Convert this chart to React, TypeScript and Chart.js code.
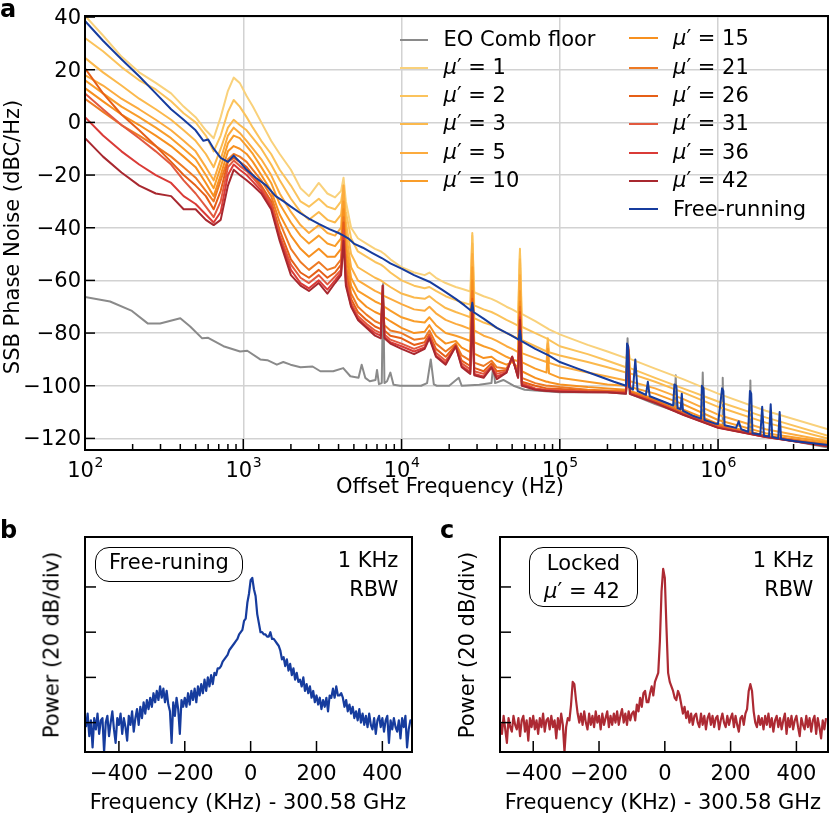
import React, { useEffect, useRef } from 'react';
import { Chart, registerables } from 'chart.js';

Chart.register(...registerables);

const FONT = '"DejaVu Sans", "Noto Sans", sans-serif';

// ---------------- Panel a : SSB phase noise ----------------
const FREQ_MU = [
  100, 130, 170, 220, 280, 350, 420, 500, 580, 650,
  720, 800, 870, 950, 1050, 1150, 1300, 1500, 1700, 2000,
  2300, 2600, 3000, 3400, 3800, 4150, 4300, 4450, 4800, 5300,
  6000, 6800, 7400, 7600, 7800, 8500, 10000, 12000, 14000, 15000,
  16500, 19000, 22000, 24000, 27200, 28000, 28800, 33000, 37000, 40000,
  46000, 50000, 54500, 56000, 57500, 70000, 82500, 84000, 85500, 100000,
  150000, 200000, 262000, 270000, 278000, 400000, 600000, 1000000, 2000000, 4950000,
];

const MU_1 = [
  40.5, 33, 25, 19, 15, 11, 6, 2, -3, -6,
  2, 12, 17, 15, 10, 6, 0, -7, -12, -18,
  -25, -28, -23, -27, -28.5, -26, -21, -30, -40, -44,
  -46, -48, -49, -49.5, -50, -52, -55, -57, -58, -57,
  -59, -61, -62.5, -63.2, -64.2, -43, -64.5, -66, -67, -68,
  -70, -71, -72.2, -49, -72.7, -75.5, -78, -78.3, -78.6, -80.5,
  -84.5, -87, -89.5, -86, -89.8, -93.5, -97.5, -103, -109.5, -116.5,
];
const MU_2 = [
  32, 27, 21, 16, 12.5, 8, 3.5, 0, -5, -11,
  -5, 4, 8.5, 6, 2, -2, -7, -12, -18, -24,
  -30, -32, -29, -32, -33, -30, -24, -34, -44, -49,
  -51, -53, -54, -54.5, -55, -57, -60, -62, -63, -62.5,
  -64, -66, -67.5, -68.3, -69.2, -42, -69.5, -71, -72, -73,
  -75, -76, -77.2, -48, -77.6, -80, -82, -82.3, -82.6, -85,
  -88, -90.5, -93, -86, -93.3, -97, -101, -106, -112, -119,
];
const MU_3 = [
  24.5, 19, 14, 9, 5, 1, -3, -7, -12, -17,
  -10, -2, 1, -1, -3, -6, -10, -16, -22, -29,
  -34, -37, -34, -37, -38, -35, -26, -38, -50, -55,
  -57, -59, -60, -60.5, -61, -62.5, -65, -66.5, -67, -66,
  -68, -70.5, -72, -72.8, -74, -46, -74.3, -76, -77, -78,
  -80, -81, -82.2, -52, -82.6, -85, -87, -82, -87.3, -88.5,
  -91, -93, -95, -86, -95.3, -98.5, -102.5, -108, -114, -120,
];
const MU_5 = [
  18, 14, 9, 5, 1, -3, -7, -11, -17, -22,
  -14, -5, -2, -4, -7, -10, -14, -20, -27, -34,
  -39, -42, -39, -42, -43, -40, -24, -42, -55, -60,
  -62, -64, -65, -65.5, -66, -67, -69, -71, -71.5, -70,
  -72.5, -75, -76.5, -77.2, -78.5, -50, -79, -81, -82, -83,
  -85, -86, -87.2, -58, -87.6, -89.5, -91, -84, -91.3, -92.6,
  -95, -96.5, -98, -86, -98.3, -101, -105, -111, -116.5, -121,
];
const MU_10 = [
  16, 11, 6, 2, -2, -6, -10, -14, -20, -25,
  -17, -8, -5, -6, -9, -12, -17, -23, -31, -38,
  -43, -46, -43, -46, -47, -44, -30, -46, -59, -64,
  -66, -68, -69, -69.5, -70, -71.5, -74, -75.5, -76, -74,
  -77, -80, -81, -81.8, -83, -55, -83.5, -85, -86, -87,
  -89, -90, -90.7, -64, -91, -93.5, -95, -86, -95.3, -97,
  -98.5, -99.5, -100, -86, -100.5, -103, -107, -113, -118, -121.5,
];
const MU_15 = [
  13, 8, 3, -1, -5, -9, -13, -17, -23, -28,
  -20, -11, -9, -10, -12, -15, -20, -26, -35, -43,
  -48, -51, -48, -51, -51, -48, -33, -50, -62, -67,
  -70, -72, -73, -73.5, -74, -75.5, -78, -80, -79.5, -77,
  -81, -84, -83, -85.5, -87.2, -60, -87.8, -89.5, -89, -90.5,
  -92, -91, -93.2, -68, -94.5, -97, -98.5, -98.5, -98.7, -99.5,
  -100.5, -101, -101.5, -86, -102, -105, -109, -114.5, -119, -122,
];
const MU_21 = [
  9, 4, -1, -5, -9, -13, -17, -21, -26, -30,
  -22, -14, -12, -13, -15, -18, -22, -28, -38, -48,
  -53, -56, -53, -56, -55, -52, -36, -54, -65, -70,
  -73, -75.5, -76.5, -70, -77, -79, -80, -82.5, -82, -79,
  -84, -87, -84, -88.5, -90.5, -64, -91.2, -92.5, -90.5, -93,
  -93.5, -90, -95.5, -70, -97, -99, -100, -100, -100, -100.5,
  -101.5, -101.8, -102, -85.5, -102.3, -105.5, -110, -115, -119, -122.5,
];
const MU_26 = [
  20.5, 11, 3, -3, -9, -15, -20, -24, -28, -33,
  -26, -15, -13.5, -15, -17, -20, -24, -30, -41, -52,
  -57, -59, -56, -59, -57, -54, -38, -57, -67, -72,
  -75, -77.5, -78.5, -66, -79, -81, -82, -84.5, -83.5, -80.5,
  -86, -89, -84.5, -90.5, -92.5, -67, -93.2, -94.5, -91.5, -94.5,
  -94, -89.5, -96, -72, -98.5, -100, -101, -101, -101, -101.2,
  -102, -102.2, -102.5, -85.5, -102.7, -106, -110.5, -115.5, -119.3, -122.8,
];
const MU_31 = [
  11, 5, -1, -6, -11, -16, -22, -27, -32, -36,
  -30, -17, -14.5, -16.5, -18.5, -21, -25, -31, -43, -54,
  -59, -61, -58, -61.5, -58.5, -56, -41, -59, -68.5, -73.5,
  -76.5, -79, -80, -64, -80.5, -82.5, -84, -86, -84.5, -81,
  -87.5, -90.5, -85, -91.5, -93.8, -69, -94.5, -95.5, -92.5, -95.5,
  -94.5, -89, -96.5, -73, -99, -101, -101.5, -101.5, -101.5, -101.8,
  -102.2, -102.4, -102.7, -85, -102.9, -106.3, -110.8, -115.8, -119.4, -122.9,
];
const MU_36 = [
  2, -5, -11, -16, -20, -23, -28, -31, -35, -38,
  -34, -20, -16, -18, -20, -22.5, -26, -32, -44, -56,
  -61, -63, -60, -63.5, -60, -57, -43, -61, -69.5, -74.5,
  -77.5, -80, -81, -62, -81.5, -83.5, -85, -87, -85.5, -81.5,
  -88.5, -91.5, -85, -92.5, -94.8, -70, -95.5, -96.5, -93, -96.5,
  -95, -89, -97, -74, -99.5, -101.3, -101.8, -101.8, -101.8, -102,
  -102.4, -102.5, -102.8, -85, -103, -106.4, -110.9, -115.9, -119.5, -123,
];
const MU_42 = [
  -6, -13, -19, -24, -27, -28, -33, -33, -37, -39,
  -37, -24, -18, -20, -22, -24, -27, -33, -45, -58,
  -62, -64, -61, -65, -61, -58, -45, -62, -70, -75,
  -78, -81, -82, -62, -82, -84, -86, -88, -86, -82,
  -89, -92, -85, -93, -95.5, -71, -96, -97, -93, -97.5,
  -95, -89, -97, -75, -100, -101.5, -102, -102, -102, -102.3,
  -102.5, -102.5, -103, -85, -103.2, -106.5, -111, -116, -119.5, -123,
];

const FREQ_FREE = [
  100, 130, 170, 220, 280, 350, 420, 500, 560, 600,
  650, 720, 800, 870, 950, 1050, 1200, 1400, 1600, 1800,
  2000, 2300, 2600, 3000, 3500, 4000, 4300, 4600, 5000, 5700,
  6500, 7500, 8500, 10000, 12000, 15000, 18000, 22000, 25000, 27500,
  28000, 28500, 33000, 40000, 48000, 55000, 56000, 57000, 70000, 85000,
  100000, 130000, 170000, 220000, 262000, 266000, 270000, 274000, 290000, 300000,
  310000, 350000, 360000, 370000, 450000, 520000, 530000, 545000, 555000, 580000,
  590000, 600000, 700000, 780000, 790000, 810000, 820000, 950000, 1000000, 1060000,
  1080000, 1100000, 1300000, 1350000, 1400000, 1550000, 1590000, 1620000, 1650000, 1850000,
  1900000, 1950000, 2100000, 2150000, 2200000, 2400000, 2450000, 2500000, 3000000, 4950000,
];
const FREE_RUNNING = [
  38.5, 31, 24, 17.5, 11, 5, 1, -3, -7, -6.5,
  -10, -13.5, -15, -12.6, -15, -18, -21, -24, -28, -30,
  -32, -34.5, -36.5, -38.5, -40.5, -42, -43, -44, -46, -47.6,
  -49.5, -51.5, -53.5, -55.5, -58, -60.5, -63.5, -67, -69.5, -71.5,
  -68.5, -72, -74.5, -78, -80.5, -82.5, -79, -83, -86, -88.5,
  -91, -93.5, -96, -98.5, -100, -84, -85, -100.5, -101.5, -90,
  -102, -103.5, -98.5, -104, -106, -107.5, -99.5, -100, -108.5, -109,
  -103, -109.5, -111.5, -112.5, -100, -101, -113, -114.3, -114.5, -101,
  -102, -115, -116, -113.5, -116.5, -117.5, -102, -103, -118, -118.5,
  -108, -119, -119.3, -107, -119.5, -120, -110, -120.2, -121, -122.5,
];

const FREQ_EO = [
  100, 144, 198, 250, 298, 400, 462, 550, 600, 750,
  955, 1060, 1280, 1420, 1630, 1790, 1990, 2300, 2740, 3070,
  3700, 4280, 4750, 5350, 5600, 5900, 6300, 6850, 7000, 7200,
  7500, 7650, 7800, 8100, 8500, 8900, 9800, 13300, 14500, 15300,
  16000, 16700, 20000, 23000, 24000, 31000, 37000, 38000, 39000, 44000,
  51000, 60000, 100000, 200000, 262000, 268000, 276000, 400000, 530000, 540000,
  550000, 790000, 800000, 815000, 1060000, 1070000, 1085000, 1590000, 1600000, 1620000,
  4950000,
];
const EO_FLOOR = [
  -66.3, -68, -71.6, -76.4, -76.4, -74.4, -77.5, -82, -81.8, -85,
  -87, -86.7, -90, -90.3, -92, -91, -92, -93, -92.7, -94.5,
  -94.5, -93.3, -96.4, -97, -92, -97, -98.3, -97.8, -94, -99.4,
  -99, -61.4, -99, -98.3, -95, -99.6, -100, -100, -99, -90,
  -99.5, -100, -100, -97, -100, -99.6, -99, -92, -99, -97.8,
  -100, -101.5, -102.5, -102.5, -103, -82, -103, -107, -109.5, -96,
  -110, -113, -95, -113.5, -116, -97, -116, -118, -98, -118,
  -123.5,
];

const A_Y_TICKS = [-120, -100, -80, -60, -40, -20, 0, 20, 40];
const A_X_EXPONENTS = [2, 3, 4, 5, 6];
const A_X_MIN = 100;
const A_X_MAX = 4.95e6;
const A_Y_MIN = -124.4;
const A_Y_MAX = 40.4;

const MU_NAMES = ['1', '2', '3', '5', '10', '15', '21', '26', '31', '36', '42'];
const MU_SERIES = [MU_1, MU_2, MU_3, MU_5, MU_10, MU_15, MU_21, MU_26, MU_31, MU_36, MU_42];
const MU_COLORS = [
  '#f9d17b', '#fbc35c', '#fbb94d', '#fcab3e', '#f99d2a', '#f7901f',
  '#ee7a24', '#e65f17', '#e2593f', '#da3b37', '#a8282f',
];
const COLOR_FREE = '#163c9e';
const COLOR_EO = '#8a8a8a';
const COLOR_LOCKED = '#ad2a33';

// ---------------- Panels b, c : beat-note spectra ----------------
const SPEC_START = -500; // kHz
const SPEC_STEP = 5; // kHz
const SPEC_FREE = [
  -82, -76, -86, -79, -91, -78, -83, -76, -85, -79,
  -78, -93, -80, -77, -86, -80, -75, -83, -89, -78,
  -81, -76, -85, -78, -82, -88, -77, -81, -75, -84,
  -78, -74, -81, -73, -78, -71, -76, -70, -74, -69,
  -73, -67, -71, -66, -70, -64, -69, -65, -71, -66,
  -72, -75, -89, -71, -77, -69, -74, -85, -70, -73,
  -69, -73, -67, -72, -66, -70, -65, -71, -64, -68,
  -63, -67, -61, -66, -60, -64, -59, -63, -58, -59,
  -56, -56, -55, -53, -52, -51, -50, -48, -47, -46,
  -45, -44, -43, -41, -40, -39, -35, -34, -27, -23,
  -17, -16, -21, -24, -32, -36, -40, -40, -41, -41,
  -42, -42, -40, -43, -43, -44, -45, -46, -48, -52,
  -51, -55, -52, -57, -54, -59, -56, -61, -58, -62,
  -61, -64, -60, -66, -63, -67, -64, -69, -66, -71,
  -68, -72, -69, -74, -70, -73, -69, -75, -68, -69,
  -65, -69, -64, -68, -68, -67, -69, -73, -70, -75,
  -72, -76, -73, -78, -75, -79, -74, -80, -76, -81,
  -77, -82, -76, -81, -83, -78, -85, -79, -77, -82,
  -78, -84, -79, -77, -89, -79, -83, -78, -82, -84,
  -79, -87, -78, -82, -77, -91, -83, -79, -80,
];
const SPEC_LOCKED = [
  -80, -85, -77, -83, -89, -78, -82, -84, -77, -81,
  -83, -78, -86, -79, -77, -84, -79, -88, -78, -82,
  -77, -83, -79, -85, -78, -82, -76, -84, -79, -78,
  -83, -77, -82, -79, -87, -78, -83, -76, -81, -93,
  -82, -78, -79, -72, -62, -63, -70, -76, -80, -76,
  -81, -75, -80, -83, -76, -81, -77, -82, -75, -80,
  -77, -83, -76, -81, -78, -75, -82, -77, -81, -76,
  -80, -75, -81, -77, -74, -80, -76, -81, -75, -79,
  -76, -75, -79, -72, -75, -69, -73, -67, -66, -71,
  -71, -67, -64, -68, -62, -60, -58, -44, -22, -12,
  -16, -38, -58, -62, -64, -66, -69, -70, -66, -68,
  -72, -76, -73, -78, -75, -80, -76, -81, -77, -76,
  -80, -82, -76, -81, -77, -83, -78, -76, -81, -77,
  -82, -78, -77, -83, -79, -76, -80, -82, -77, -81,
  -78, -76, -82, -77, -81, -84, -78, -77, -81, -76,
  -74, -66, -63, -66, -75, -80, -82, -77, -81, -78,
  -83, -77, -81, -76, -82, -78, -84, -79, -77, -82,
  -78, -83, -79, -76, -85, -78, -82, -77, -83, -79,
  -77, -82, -86, -78, -81, -83, -77, -82, -78, -84,
  -79, -77, -85, -78, -82, -87, -79, -83, -78,
];
const SPEC_X_TICKS = [-400, -200, 0, 200, 400];
const SPEC_Y_TICKS = [-80, -60, -40, -20];
const SPEC_Y_MIN = -93;
const SPEC_Y_MAX = 2.1;

const fmt = (v: number) => String(v).replace('-', '\u2212');

function line(ctx: CanvasRenderingContext2D, x1: number, y1: number, x2: number, y2: number) {
  ctx.beginPath();
  ctx.moveTo(x1, y1);
  ctx.lineTo(x2, y2);
  ctx.stroke();
}

const panelADeco = {
  id: 'panelADeco',
  afterDraw(chart: any) {
    const { ctx, chartArea: a, scales } = chart;
    const sx = scales.x;
    const sy = scales.y;
    ctx.save();
    ctx.strokeStyle = '#000';
    ctx.fillStyle = '#000';
    ctx.lineWidth = 1.5;
    ctx.font = `21px ${FONT}`;
    ctx.textAlign = 'right';
    ctx.textBaseline = 'middle';
    A_Y_TICKS.forEach((v) => {
      const py = sy.getPixelForValue(v);
      line(ctx, a.left, py, a.left + 10, py);
      ctx.fillText(fmt(v), a.left - 4, py + 1.5);
    });
    A_X_EXPONENTS.forEach((e) => {
      for (let k = 1; k <= 9; k++) {
        const v = k * Math.pow(10, e);
        if (v < A_X_MIN || v > A_X_MAX) continue;
        const px = sx.getPixelForValue(v);
        line(ctx, px, a.bottom, px, a.bottom - (k === 1 ? 11 : 6));
      }
      const px = sx.getPixelForValue(Math.pow(10, e));
      ctx.textAlign = 'left';
      ctx.textBaseline = 'alphabetic';
      ctx.font = `21px ${FONT}`;
      const w1 = ctx.measureText('10').width;
      ctx.font = `14px ${FONT}`;
      const w2 = ctx.measureText(String(e)).width;
      const start = px - (w1 + w2) / 2;
      ctx.font = `21px ${FONT}`;
      ctx.fillText('10', start, a.bottom + 26.7);
      ctx.font = `14px ${FONT}`;
      ctx.fillText(String(e), start + w1 + 0.5, a.bottom + 17);
    });
    ctx.lineWidth = 2;
    ctx.strokeRect(a.left, a.top, a.right - a.left, a.bottom - a.top);
    ctx.restore();
  },
};

function PanelA() {
  const ref = useRef<HTMLCanvasElement>(null);
  useEffect(() => {
    if (!ref.current) return;
    const common = { pointRadius: 0, borderWidth: 2, tension: 0, fill: false, borderJoinStyle: 'round', borderCapStyle: 'round' };
    const datasets: any[] = [];
    datasets.push({
      ...common,
      label: 'Free-running',
      borderColor: COLOR_FREE,
      data: FREQ_FREE.map((f, i) => ({ x: f, y: FREE_RUNNING[i] })),
    });
    for (let s = MU_SERIES.length - 1; s >= 0; s--) {
      datasets.push({
        ...common,
        label: `μ′ = ${MU_NAMES[s]}`,
        borderColor: MU_COLORS[s],
        data: FREQ_MU.map((f, i) => ({ x: f, y: MU_SERIES[s][i] })),
      });
    }
    datasets.push({
      ...common,
      label: 'EO Comb floor',
      borderColor: COLOR_EO,
      data: FREQ_EO.map((f, i) => ({ x: f, y: EO_FLOOR[i] })),
    });
    const chart = new Chart(ref.current, {
      type: 'line',
      data: { datasets },
      options: {
        animation: false,
        responsive: false,
        devicePixelRatio: 1,
        events: [],
        layout: { padding: { left: 0, right: 2, top: 16, bottom: 0 } },
        plugins: { legend: { display: false }, tooltip: { enabled: false } },
        scales: {
          x: {
            type: 'logarithmic',
            min: A_X_MIN,
            max: A_X_MAX,
            border: { display: false },
            grid: { color: '#d2d2d2', lineWidth: 1.5, drawTicks: false },
            ticks: { display: false },
            afterBuildTicks: (s: any) => {
              s.ticks = A_X_EXPONENTS.map((e) => ({ value: Math.pow(10, e) }));
            },
            afterFit: (s: any) => {
              s.height = 50;
            },
          },
          y: {
            type: 'linear',
            min: A_Y_MIN,
            max: A_Y_MAX,
            border: { display: false },
            grid: { color: '#d2d2d2', lineWidth: 1.5, drawTicks: false },
            ticks: { display: false },
            afterBuildTicks: (s: any) => {
              s.ticks = A_Y_TICKS.map((v) => ({ value: v }));
            },
            afterFit: (s: any) => {
              s.width = 85;
            },
          },
        },
      } as any,
      plugins: [panelADeco],
    });
    return () => chart.destroy();
  }, []);
  return <canvas ref={ref} width={830} height={500} style={{ position: 'absolute', left: 0, top: 0 }} />;
}

function makeSpecDeco(id: string) {
  return {
    id,
    afterDraw(chart: any) {
      const { ctx, chartArea: a, scales } = chart;
      ctx.save();
      ctx.strokeStyle = '#000';
      ctx.fillStyle = '#000';
      ctx.lineWidth = 1.5;
      ctx.font = `21px ${FONT}`;
      ctx.textAlign = 'center';
      ctx.textBaseline = 'alphabetic';
      SPEC_X_TICKS.forEach((v) => {
        const px = scales.x.getPixelForValue(v);
        line(ctx, px, a.bottom, px, a.bottom - 11);
        ctx.fillText(fmt(v), px, a.bottom + 28);
      });
      SPEC_Y_TICKS.forEach((v) => {
        const py = scales.y.getPixelForValue(v);
        line(ctx, a.left, py, a.left + 11, py);
      });
      ctx.lineWidth = 2;
      ctx.strokeRect(a.left, a.top, a.right - a.left, a.bottom - a.top);
      ctx.restore();
    },
  };
}

function SpectrumPanel(props: { values: number[]; color: string; left: number; xMin: number; xMax: number; padRight: number; id: string }) {
  const ref = useRef<HTMLCanvasElement>(null);
  useEffect(() => {
    if (!ref.current) return;
    const chart = new Chart(ref.current, {
      type: 'line',
      data: {
        datasets: [
          {
            label: props.id,
            data: props.values.map((v, i) => ({ x: SPEC_START + i * SPEC_STEP, y: v })),
            borderColor: props.color,
            borderWidth: 2.2,
            pointRadius: 0,
            tension: 0,
            fill: false,
            borderJoinStyle: 'round',
          } as any,
        ],
      },
      options: {
        animation: false,
        responsive: false,
        devicePixelRatio: 1,
        events: [],
        layout: { padding: { left: 0, right: props.padRight, top: 37, bottom: 0 } },
        plugins: { legend: { display: false }, tooltip: { enabled: false } },
        scales: {
          x: {
            type: 'linear',
            min: props.xMin,
            max: props.xMax,
            border: { display: false },
            grid: { display: false, drawTicks: false },
            ticks: { display: false },
            afterBuildTicks: (s: any) => {
              s.ticks = SPEC_X_TICKS.map((v) => ({ value: v }));
            },
            afterFit: (s: any) => {
              s.height = 65;
            },
          },
          y: {
            type: 'linear',
            min: SPEC_Y_MIN,
            max: SPEC_Y_MAX,
            border: { display: false },
            grid: { display: false, drawTicks: false },
            ticks: { display: false },
            afterBuildTicks: (s: any) => {
              s.ticks = SPEC_Y_TICKS.map((v) => ({ value: v }));
            },
            afterFit: (s: any) => {
              s.width = 85;
            },
          },
        },
      } as any,
      plugins: [makeSpecDeco('deco-' + props.id)],
    });
    return () => chart.destroy();
  }, []);
  return <canvas ref={ref} width={415} height={317} style={{ position: 'absolute', left: props.left, top: 500 }} />;
}

function Label(props: { x: number; y: number; size?: number; align?: 'left' | 'right' | 'center'; bold?: boolean; children: React.ReactNode }) {
  const size = props.size ?? 21;
  const align = props.align ?? 'left';
  const shift = align === 'left' ? '0%' : align === 'right' ? '-100%' : '-50%';
  return (
    <div
      style={{
        position: 'absolute',
        left: props.x,
        top: props.y - 0.846 * size,
        fontFamily: FONT,
        fontSize: size,
        lineHeight: 1,
        fontWeight: props.bold ? 700 : 400,
        whiteSpace: 'nowrap',
        transform: `translateX(${shift})`,
        color: '#000',
      }}
    >
      {props.children}
    </div>
  );
}

function VLabel(props: { cx: number; cy: number; size?: number; children: React.ReactNode }) {
  return (
    <div
      style={{
        position: 'absolute',
        left: props.cx,
        top: props.cy,
        fontFamily: FONT,
        fontSize: props.size ?? 21,
        lineHeight: 1,
        whiteSpace: 'nowrap',
        transform: 'translate(-50%, -50%) rotate(-90deg)',
        color: '#000',
      }}
    >
      {props.children}
    </div>
  );
}

const Mu = (p: { n: string }) => (
  <>
    <span style={{ fontStyle: 'italic' }}>μ</span>′ = {p.n}
  </>
);

export default function App() {
  const col1Rows = [39.5, 67.7, 96, 124, 152.5, 181];
  const col2Rows = [38.3, 67.7, 96, 124, 152.5, 181, 209.3];
  const col1 = [
    { node: <>EO Comb floor</>, color: COLOR_EO },
    ...[0, 1, 2, 3, 4].map((i) => ({ node: <Mu n={MU_NAMES[i]} />, color: MU_COLORS[i] })),
  ];
  const col2 = [
    ...[5, 6, 7, 8, 9, 10].map((i) => ({ node: <Mu n={MU_NAMES[i]} />, color: MU_COLORS[i] })),
    { node: <>Free-running</>, color: COLOR_FREE },
  ];
  return (
    <div style={{ position: 'absolute', left: 0, top: 0, width: 830, height: 817, background: '#fff', overflow: 'hidden' }}>
      <PanelA />
      <SpectrumPanel id="b" values={SPEC_FREE} color={COLOR_FREE} left={0} xMin={-503} xMax={490} padRight={3} />
      <SpectrumPanel id="c" values={SPEC_LOCKED} color={COLOR_LOCKED} left={415} xMin={-501} xMax={496} padRight={2} />

      {/* legend of panel a */}
      {col1.map((r, i) => (
        <React.Fragment key={'c1' + i}>
          <div style={{ position: 'absolute', left: 400, top: col1Rows[i] - 1, width: 28, height: 2, background: r.color }} />
          <Label x={443.5} y={col1Rows[i] + 7}>{r.node}</Label>
        </React.Fragment>
      ))}
      {col2.map((r, i) => (
        <React.Fragment key={'c2' + i}>
          <div style={{ position: 'absolute', left: 629, top: col2Rows[i] - 1, width: 29, height: 2, background: r.color }} />
          <Label x={673} y={col2Rows[i] + 7}>{r.node}</Label>
        </React.Fragment>
      ))}

      {/* panel letters */}
      <Label x={0} y={17} size={24} bold>a</Label>
      <Label x={0} y={538} size={24} bold>b</Label>
      <Label x={440} y={538} size={24} bold>c</Label>

      {/* axis titles */}
      <VLabel cx={12} cy={237}>SSB Phase Noise (dBC/Hz)</VLabel>
      <Label x={450} y={493.3} align="center">Offset Frequency (Hz)</Label>
      <VLabel cx={51.5} cy={645}>Power (20 dB/div)</VLabel>
      <VLabel cx={466.7} cy={645}>Power (20 dB/div)</VLabel>
      <Label x={248} y={809.3} align="center">Frequency (KHz) - 300.58 GHz</Label>
      <Label x={663} y={809.3} align="center">Frequency (KHz) - 300.58 GHz</Label>

      {/* panel b annotations */}
      <div style={{ position: 'absolute', left: 95, top: 547, width: 148, height: 35, border: '1.5px solid #000', borderRadius: 14, boxSizing: 'border-box' }} />
      <Label x={169} y={570} align="center">Free-runing</Label>
      <Label x={398.3} y={567.3} align="right">1 KHz</Label>
      <Label x={398.3} y={596.7} align="right">RBW</Label>

      {/* panel c annotations */}
      <div style={{ position: 'absolute', left: 529.3, top: 546.7, width: 109, height: 60.6, border: '1.5px solid #000', borderRadius: 14, boxSizing: 'border-box' }} />
      <Label x={583.5} y={570.7} align="center">Locked</Label>
      <Label x={582} y={598.3} align="center"><Mu n="42" /></Label>
      <Label x={813.3} y={567.3} align="right">1 KHz</Label>
      <Label x={813.3} y={596.7} align="right">RBW</Label>
    </div>
  );
}
